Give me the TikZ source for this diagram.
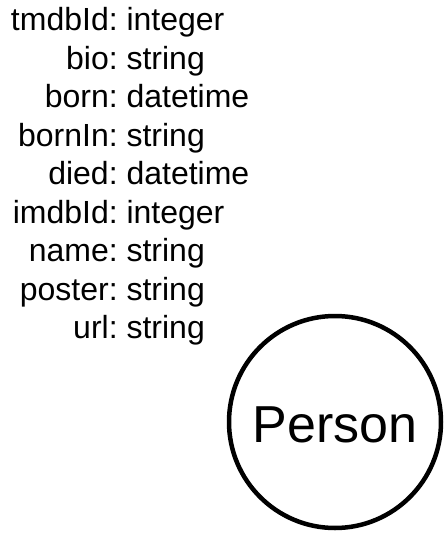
\documentclass[tikz,border=0pt]{standalone}
\usepackage{fontspec}
\setmainfont{Liberation Sans}
\begin{document}
\begin{tikzpicture}[x=1pt,y=-1pt,
  prop/.style={anchor=base west,inner sep=0pt,font=\fontsize{32}{32}\selectfont},
  entity/.style={circle,draw=black,line width=4.5pt,minimum size=212pt,inner sep=0pt}]
\useasboundingbox (0,0) rectangle (444,533);
\foreach \n/\k/\t [count=\i from 0] in {a/tmdbId/integer,b/bio/string,c/born/datetime,d/bornIn/string,e/died/datetime,f/imdbId/integer,g/name/string,h/poster/string,j/url/string}{
  \node[prop] (p\n) at (117.5,{30.5+38.5*\i}) {\llap{\k:}\ \t};
}
\node[entity] (person) at (335,422) {};
\node[anchor=base,inner sep=0pt,font=\fontsize{52}{52}\selectfont] (plabel) at (335,442) {Person};
\end{tikzpicture}
\end{document}
